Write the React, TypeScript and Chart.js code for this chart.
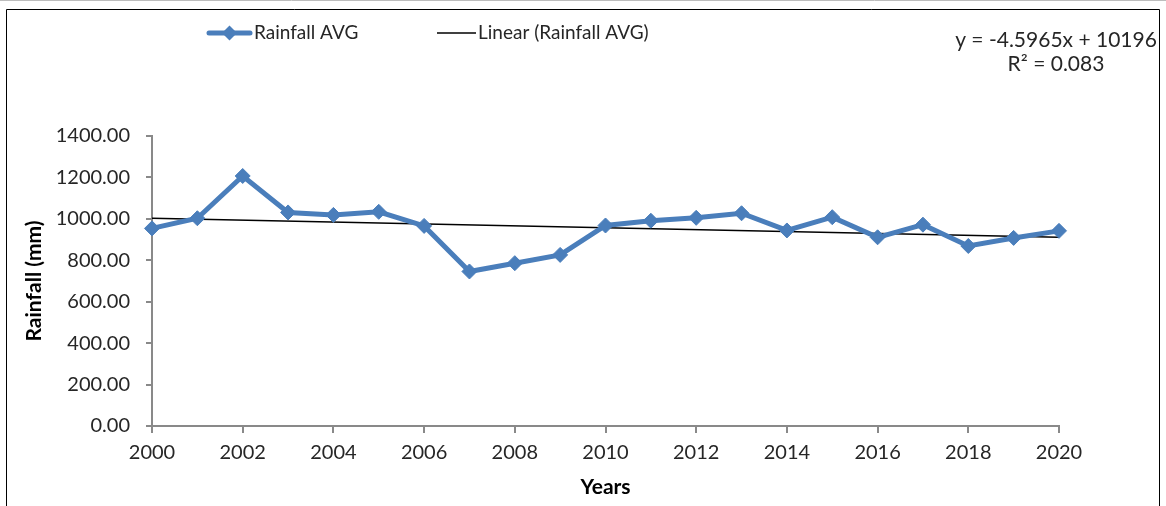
import React, { useEffect, useRef } from "react";
import { Chart, registerables } from "chart.js";

Chart.register(...registerables);

// ---- data ----
const years = [2000, 2001, 2002, 2003, 2004, 2005, 2006, 2007, 2008, 2009, 2010, 2011, 2012, 2013, 2014, 2015, 2016, 2017, 2018, 2019, 2020];
const rainfallAvg = [954, 1003, 1207, 1031, 1019, 1034, 966, 746, 786, 826, 968, 991, 1005, 1027, 944, 1008, 911, 972, 869, 908, 942];
const trendYears = [2000, 2020];
const trendValues = [1003.0, 911.1];
const yMin = 0;
const yMax = 1400;
const yStep = 200;
const xMin = 2000;
const xMax = 2020;
const xStep = 2;
const legendLabels = ["Rainfall AVG", "Linear (Rainfall AVG)"];
const equationLines = ["y = -4.5965x + 10196", "R² = 0.083"];
const yAxisTitle = "Rainfall (mm)";
const xAxisTitle = "Years";

const FONT = "Lato, 'Open Sans', sans-serif";
const BLUE = "#4A7EBB";
const AXIS = "#898989";
const TEXT = "#262626";

const W = 1166;
const H = 506;

const decorPlugin = {
  id: "decor",
  afterDraw(chart: any) {
    const ctx = chart.ctx as CanvasRenderingContext2D;
    ctx.save();
    // top grey strip
    ctx.strokeStyle = "#bdbdbd";
    ctx.lineWidth = 1;
    ctx.beginPath();
    ctx.moveTo(0, 0.5);
    ctx.lineTo(W, 0.5);
    ctx.stroke();
    // outer border
    ctx.strokeStyle = "#000";
    ctx.lineWidth = 1;
    ctx.beginPath();
    ctx.moveTo(6.5, H + 5);
    ctx.lineTo(6.5, 9.5);
    ctx.lineTo(1159.5, 9.5);
    ctx.lineTo(1159.5, H + 5);
    ctx.stroke();

    // legend 1
    const ly = 33;
    ctx.strokeStyle = BLUE;
    ctx.lineWidth = 5;
    ctx.lineCap = "round";
    ctx.beginPath();
    ctx.moveTo(209, ly);
    ctx.lineTo(250, ly);
    ctx.stroke();
    ctx.fillStyle = BLUE;
    ctx.beginPath();
    ctx.moveTo(229.5 - 7.5, ly);
    ctx.lineTo(229.5, ly - 7.5);
    ctx.lineTo(229.5 + 7.5, ly);
    ctx.lineTo(229.5, ly + 7.5);
    ctx.closePath();
    ctx.fill();
    ctx.font = `19px ${FONT}`;
    ctx.fillStyle = TEXT;
    ctx.textBaseline = "middle";
    ctx.textAlign = "left";
    ctx.fillText(legendLabels[0], 254, ly);
    // legend 2
    ctx.strokeStyle = "#000";
    ctx.lineWidth = 1.5;
    ctx.lineCap = "butt";
    ctx.beginPath();
    ctx.moveTo(437, ly);
    ctx.lineTo(476, ly);
    ctx.stroke();
    ctx.fillText(legendLabels[1], 478, ly);

    // equation
    ctx.textAlign = "center";
    ctx.font = `21px ${FONT}`;
    ctx.fillText(equationLines[0], 1056, 40);
    ctx.fillText(equationLines[1], 1056, 64);
    ctx.restore();
  },
};

export default function App() {
  const ref = useRef<HTMLCanvasElement | null>(null);
  useEffect(() => {
    if (!ref.current) return;
    const chart = new Chart(ref.current, {
      type: "line",
      data: {
        datasets: [
          {
            label: legendLabels[0],
            data: years.map((x, i) => ({ x, y: rainfallAvg[i] })),
            borderColor: BLUE,
            backgroundColor: BLUE,
            borderWidth: 5,
            pointStyle: "rectRot",
            pointRadius: 7.5,
            pointBorderWidth: 1,
            pointBackgroundColor: BLUE,
            pointBorderColor: BLUE,
            tension: 0,
            clip: false,
          },
          {
            label: legendLabels[1],
            data: trendYears.map((x, i) => ({ x, y: trendValues[i] })),
            borderColor: "#000",
            borderWidth: 1.5,
            pointRadius: 0,
            tension: 0,
            clip: false,
          },
        ],
      },
      options: {
        responsive: false,
        animation: false,
        layout: { padding: { left: 0, right: 107, top: 136, bottom: 0 } },
        plugins: {
          legend: { display: false },
          tooltip: { enabled: false },
        },
        scales: {
          x: {
            type: "linear",
            min: xMin,
            max: xMax,
            afterFit: (s: any) => {
              s.height = 80;
            },
            border: { display: true, color: AXIS, width: 2 },
            grid: { drawOnChartArea: false, drawTicks: true, tickLength: 7, color: AXIS, lineWidth: 2 },
            ticks: {
              stepSize: xStep,
              color: TEXT,
              font: { family: FONT, size: 20 },
              padding: 8,
              maxRotation: 0,
              callback: (v: any) => String(v),
            },
            title: {
              display: true,
              text: xAxisTitle,
              color: "#000",
              font: { family: FONT, size: 21, weight: "bold" },
              padding: { top: 0, bottom: 6 },
            },
          },
          y: {
            min: yMin,
            max: yMax,
            afterFit: (s: any) => {
              s.width = 152;
            },
            border: { display: true, color: AXIS, width: 2 },
            grid: { drawOnChartArea: false, drawTicks: true, tickLength: 6, color: AXIS, lineWidth: 2 },
            ticks: {
              stepSize: yStep,
              color: TEXT,
              font: { family: FONT, size: 20 },
              padding: 16,
              callback: (v: any) => Number(v).toFixed(2),
            },
            title: {
              display: true,
              text: yAxisTitle,
              color: "#000",
              font: { family: FONT, size: 21, weight: "bold" },
              padding: { top: 22, bottom: 0 },
            },
          },
        },
      },
      plugins: [decorPlugin],
    } as any);
    return () => chart.destroy();
  }, []);
  return (
    <div style={{ position: "absolute", left: 0, top: 0, width: W, height: H, background: "#fff" }}>
      <canvas ref={ref} width={W} height={H} />
    </div>
  );
}
